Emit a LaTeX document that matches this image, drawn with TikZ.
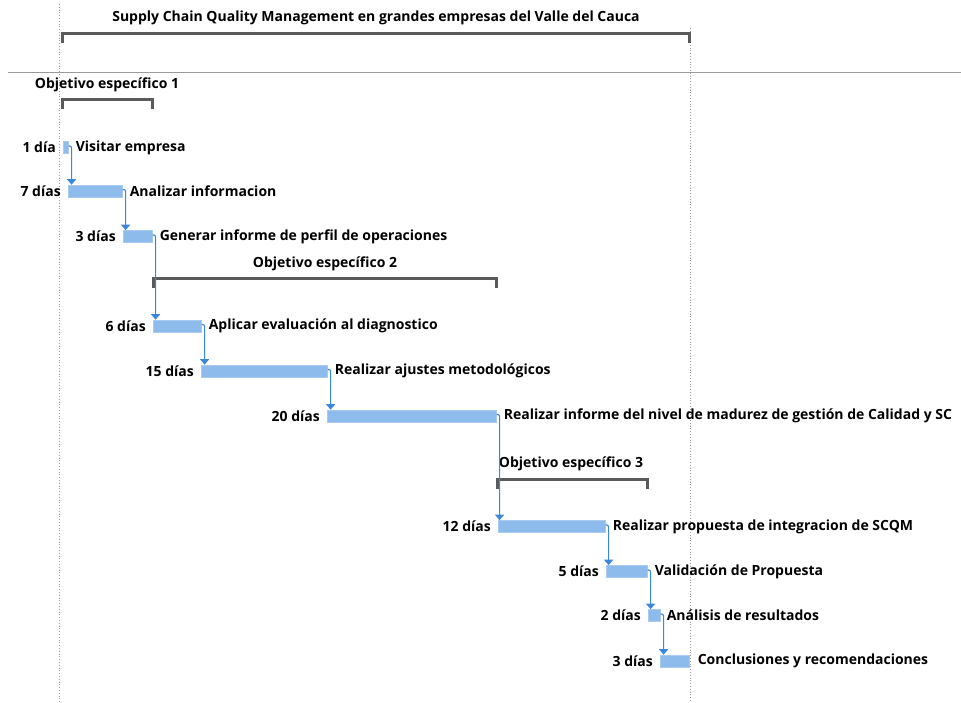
\documentclass[tikz,border=0pt]{standalone}
\usepackage{fontspec}
\setmainfont{Open Sans}
\usetikzlibrary{arrows.meta,calc}
\definecolor{barfill}{HTML}{8DBBEC}
\definecolor{barline}{HTML}{A9CBF1}
\definecolor{linkblue}{HTML}{3A87DD}
\definecolor{brackgray}{HTML}{5A5A5A}
\definecolor{gridgray}{HTML}{9A9A9A}
\tikzset{
  txt/.style={font=\fontsize{14}{16}\selectfont\bfseries, inner sep=0pt, text=black},
  bar/.style={draw=barline, line width=0.6pt, fill=barfill, minimum height=12pt, inner sep=0pt, anchor=west},
  link/.style={draw=linkblue, line width=1.1pt, rounded corners=2pt, -{Triangle[width=9pt,length=5.5pt]}},
  brack/.style={draw=brackgray, line width=3pt},
  gridline/.style={draw=gridgray, line width=0.8pt, dotted},
}
\begin{document}
\begin{tikzpicture}[x=1pt,y=-1pt]
\useasboundingbox (0,0) rectangle (961,702);
% timeline frame
\draw[gridline] (59,4) -- (59,702);
\draw[gridline] (690,28) -- (690,702);
\draw[draw=gridgray, line width=1pt] (8,72) -- (961,72);

% summary and objectives
\node[txt] (title) at (376,17.5) {Supply Chain Quality Management en grandes empresas del Valle del Cauca};
\draw[brack] (62,43) -- (62,33) -- (689,33) -- (689,43);
\node[txt] (obj1) at (107,84.5) {Objetivo específico 1};
\draw[brack] (62,109) -- (62,99) -- (152,99) -- (152,109);
\node[txt] (obj2) at (325,263.5) {Objetivo específico 2};
\draw[brack] (153,288) -- (153,278) -- (496,278) -- (496,288);
\node[txt] (obj3) at (571,463.5) {Objetivo específico 3};
\draw[brack] (497,489) -- (497,479) -- (647,479) -- (647,489);

% task bars
\node[bar, minimum width=5pt]   (b1)  at (63,147.5) {};
\node[bar, minimum width=54pt]  (b2)  at (68,191) {};
\node[bar, minimum width=29pt]  (b3)  at (123,236.5) {};
\node[bar, minimum width=48pt]  (b4)  at (153,326) {};
\node[bar, minimum width=126pt] (b5)  at (201,371) {};
\node[bar, minimum width=169pt] (b6)  at (327,416) {};
\node[bar, minimum width=107pt] (b7)  at (498,526.5) {};
\node[bar, minimum width=41pt]  (b8)  at (606,571.5) {};
\node[bar, minimum width=12pt]  (b9)  at (648,615.5) {};
\node[bar, minimum width=29pt]  (b10) at (660,661) {};

% durations
\foreach \b/\d in {b1/1 día, b2/7 días, b3/3 días, b4/6 días, b5/15 días, b6/20 días, b7/12 días, b8/5 días, b9/2 días, b10/3 días}
  \node[txt, anchor=east] (d\b) at ($(\b.west)+(-7,0)$) {\d};

% task names
\node[txt, anchor=west] (t1)  at ($(b1.east)+(7,0)$)  {Visitar empresa};
\node[txt, anchor=west] (t2)  at ($(b2.east)+(7,0)$)  {Analizar informacion};
\node[txt, anchor=west] (t3)  at ($(b3.east)+(7,0)$)  {Generar informe de perfil de operaciones};
\node[txt, anchor=west] (t4)  at ($(b4.east)+(7,0)$)  {Aplicar evaluación al diagnostico};
\node[txt, anchor=west] (t5)  at ($(b5.east)+(7,0)$)  {Realizar ajustes metodológicos};
\node[txt, anchor=west] (t6)  at ($(b6.east)+(7,0)$)  {Realizar informe del nivel de madurez de gestión de Calidad y SC};
\node[txt, anchor=west] (t7)  at ($(b7.east)+(7,0)$)  {Realizar propuesta de integracion de SCQM};
\node[txt, anchor=west] (t8)  at ($(b8.east)+(7,0)$)  {Validación de Propuesta};
\node[txt, anchor=west] (t9)  at ($(b9.east)+(6,0)$)  {Análisis de resultados};
\node[txt, anchor=west] (t10) at ($(b10.east)+(8,0)$) {Conclusiones y recomendaciones};

% finish-to-start links
\foreach \a/\b in {b1/b2, b2/b3, b3/b4, b4/b5, b5/b6, b6/b7, b7/b8, b8/b9, b9/b10}
  \draw[link] ($(\a.east)+(0,-1.5)$) -| ($(\a.east |- \b.north)+(3,0)$);
\end{tikzpicture}
\end{document}
